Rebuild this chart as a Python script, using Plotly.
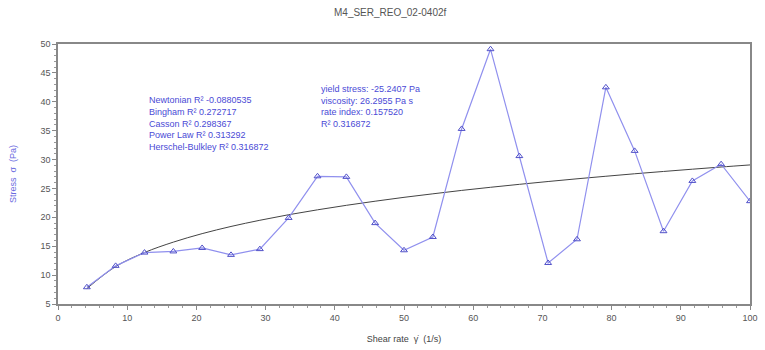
import plotly.graph_objects as go

shear_rate = [4.17, 8.33, 12.5, 16.67, 20.83, 25.0, 29.17, 33.33, 37.5, 41.67, 45.83, 50.0,
              54.17, 58.33, 62.5, 66.67, 70.83, 75.0, 79.17, 83.33, 87.5, 91.67, 95.83, 100.0]
stress = [7.9, 11.6, 13.9, 14.1, 14.7, 13.5, 14.5, 19.9, 27.1, 27.0, 19.0, 14.3,
          16.6, 35.3, 49.1, 30.6, 12.1, 16.2, 42.5, 31.5, 17.6, 26.3, 29.2, 22.8]
fit_stress = [7.68, 11.48, 13.91, 15.71, 17.18, 18.42, 19.49, 20.45, 21.30, 22.08, 22.79, 23.46,
              24.07, 24.66, 25.20, 25.71, 26.20, 26.67, 27.11, 27.54, 27.94, 28.33, 28.71, 29.07]

left_lines = ["Newtonian R² -0.0880535", "Bingham R² 0.272717", "Casson R² 0.298367",
              "Power Law R² 0.313292", "Herschel-Bulkley R² 0.316872"]
right_lines = ["yield stress: -25.2407 Pa", "viscosity: 26.2955 Pa s",
               "rate index: 0.157520", "R² 0.316872"]

BLUE = "#4a4ad6"
FONT = "Liberation Sans, Arial, sans-serif"

fig = go.Figure()
fig.add_trace(go.Scatter(x=shear_rate, y=fit_stress, mode="lines", line_shape="spline",
                         line=dict(color="#444444", width=1), showlegend=False))
fig.add_trace(go.Scatter(x=shear_rate, y=stress, mode="lines+markers",
                         line=dict(color="#9090ee", width=1.2),
                         marker=dict(symbol="triangle-up-open", size=6, color="#5050c8",
                                     line=dict(width=1)),
                         showlegend=False))

PLOT_TOP, PLOT_H, PLOT_L, PLOT_W = 44, 260, 58, 700

for i, t in enumerate(left_lines):
    ypx = 100 + i * 11.8
    fig.add_annotation(text=t, xref="paper", yref="paper",
                       x=(148 - PLOT_L) / PLOT_W, y=1 - (ypx - PLOT_TOP) / PLOT_H,
                       xanchor="left", yanchor="middle", align="left", showarrow=False,
                       font=dict(family=FONT, size=9, color=BLUE))
for i, t in enumerate(right_lines):
    ypx = 89 + i * 11.5
    fig.add_annotation(text=t, xref="paper", yref="paper",
                       x=(322 - PLOT_L) / PLOT_W, y=1 - (ypx - PLOT_TOP) / PLOT_H,
                       xanchor="left", yanchor="middle", align="left", showarrow=False,
                       font=dict(family=FONT, size=9, color=BLUE))

fig.update_layout(
    width=765, height=350,
    margin=dict(l=58, r=7, t=44, b=46),
    paper_bgcolor="white", plot_bgcolor="white",
    font=dict(family=FONT, size=9, color="#555555"),
    title=dict(text="M4_SER_REO_02-0402f", x=0.51, xanchor="center", y=0.975, yanchor="top",
               font=dict(family=FONT, size=10, color="#555555")),
    xaxis=dict(range=[0, 100], tickvals=list(range(0, 101, 10)), showgrid=False, zeroline=False,
               showline=True, linecolor="#888888", linewidth=1.5, mirror=True,
               ticks="outside", ticklen=4, tickcolor="#888888",
               minor=dict(dtick=2, ticks="outside", ticklen=2, tickcolor="#999999"),
               tickfont=dict(size=9, color="#555555"),
               title=dict(text="Shear rate  γ̇  (1/s)", font=dict(size=9, color="#444444"), standoff=14)),
    yaxis=dict(range=[5, 50], tickvals=list(range(5, 51, 5)), showgrid=False, zeroline=False,
               showline=True, linecolor="#888888", linewidth=1.5, mirror=True,
               ticks="outside", ticklen=4, tickcolor="#888888",
               minor=dict(dtick=1, ticks="outside", ticklen=2, tickcolor="#999999"),
               tickfont=dict(size=9, color="#555555"),
               title=dict(text="Stress  σ  (Pa)", font=dict(size=9, color="#6a6ae0"), standoff=22)),
)

fig.write_html("out.html")
